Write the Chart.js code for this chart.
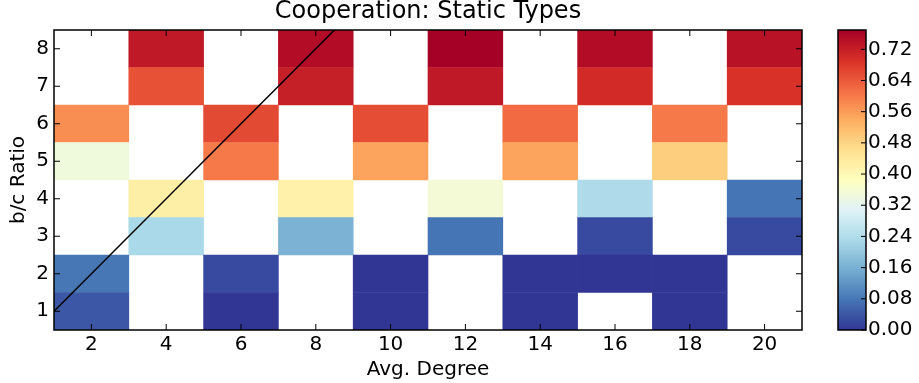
<!DOCTYPE html>
<html>
<head>
<meta charset="utf-8">
<script src="https://cdn.jsdelivr.net/npm/chart.js@4.4.0/dist/chart.umd.min.js"></script>
<style>
  body { margin: 0; background: #fff; }
  #wrap { position: relative; width: 919px; height: 383px; }
  canvas { position: absolute; left: 0; top: 0; }
</style>
</head>
<body>
<div id="wrap">
  <canvas id="heatChart" width="919" height="383"></canvas>
  <canvas id="barChart" width="919" height="383"></canvas>
</div>
<script>
// categories
var degrees = ['2', '4', '6', '8', '10', '12', '14', '16', '18', '20'];
var ratios = [1, 2, 3, 4, 5, 6, 7, 8];

// cooperation level per b/c ratio row (null = no cell)
var coop1 = [0.04, null, 0.00, null, 0.00, null, 0.00, null, 0.00, null];
var coop2 = [0.08, null, 0.025, null, 0.00, null, 0.00, 0.00, 0.00, null];
var coop3 = [null, 0.23, null, 0.165, null, 0.077, null, 0.025, null, 0.025];
var coop4 = [null, 0.425, null, 0.42, null, 0.355, null, 0.235, null, 0.077];
var coop5 = [0.345, null, 0.60, null, 0.55, null, 0.55, null, 0.49, null];
var coop6 = [0.577, null, 0.66, null, 0.655, null, 0.62, null, 0.60, null];
var coop7 = [null, 0.65, null, 0.72, null, 0.73, null, 0.70, null, 0.69];
var coop8 = [null, 0.73, null, 0.75, null, 0.77, null, 0.75, null, 0.74];
var rows = [coop1, coop2, coop3, coop4, coop5, coop6, coop7, coop8];

// diagonal reference line
var lineX = [1, 8.5];
var lineY = [1, 8.5];

// colour scale
var colorMax = 0.7695;
var colorTicks = [0, 0.08, 0.16, 0.24, 0.32, 0.40, 0.48, 0.56, 0.64, 0.72];

// RdYlBu reversed
var cmap = ['#313695', '#4575b4', '#74add1', '#abd9e9', '#e0f3f8', '#ffffbf',
            '#fee090', '#fdae61', '#f46d43', '#d73027', '#a50026'];

function hexToRgb(h) {
    return [parseInt(h.substr(1, 2), 16), parseInt(h.substr(3, 2), 16), parseInt(h.substr(5, 2), 16)];
}

function colorFor(v) {
    var t = Math.max(0, Math.min(1, v / colorMax)) * (cmap.length - 1);
    var i = Math.min(Math.floor(t), cmap.length - 2);
    var f = t - i;
    var a = hexToRgb(cmap[i]), b = hexToRgb(cmap[i + 1]);
    return 'rgb(' + Math.round(a[0] + (b[0] - a[0]) * f) + ',' +
        Math.round(a[1] + (b[1] - a[1]) * f) + ',' +
        Math.round(a[2] + (b[2] - a[2]) * f) + ')';
}

var font = "'DejaVu Sans', sans-serif";
Chart.defaults.font.family = font;
Chart.defaults.color = '#000';

var datasets = [];
for (var r = 0; r < rows.length; r++) {
    var vals = rows[r];
    var y = ratios[r];
    datasets.push({
        type: 'bar',
        data: vals.map(function(v) { return v === null ? null : [y - 0.5, y + 0.5]; }),
        backgroundColor: vals.map(function(v) { return v === null ? 'rgba(0,0,0,0)' : colorFor(v); }),
        borderWidth: 0,
        grouped: false,
        barPercentage: 1,
        categoryPercentage: 1,
        order: 1
    });
}
datasets.push({
    type: 'line',
    xAxisID: 'x2',
    data: lineX.map(function(x, i) { return {x: x, y: lineY[i]}; }),
    borderColor: '#000',
    borderWidth: 1.5,
    pointRadius: 0,
    fill: false,
    order: 0
});

function strokeLine(c, x1, y1, x2, y2) {
    c.beginPath();
    c.moveTo(x1, y1);
    c.lineTo(x2, y2);
    c.stroke();
}

var frameTicks = {
    id: 'frameTicks',
    afterDraw: function(chart) {
        var c = chart.ctx, a = chart.chartArea;
        c.save();
        c.strokeStyle = '#000';
        c.lineWidth = 1;
        var xs = chart.scales.x;
        xs.ticks.forEach(function(t, i) {
            var px = xs.getPixelForTick(i);
            strokeLine(c, px, a.bottom, px, a.bottom - 6);
            strokeLine(c, px, a.top, px, a.top + 6);
        });
        var ys = chart.scales.y;
        ys.ticks.forEach(function(t, i) {
            var py = ys.getPixelForTick(i);
            strokeLine(c, a.left, py, a.left + 6, py);
            strokeLine(c, a.right, py, a.right - 6, py);
        });
        c.lineWidth = 1.5;
        c.strokeRect(a.left, a.top, a.right - a.left, a.bottom - a.top);
        c.restore();
    }
};

new Chart(document.getElementById('heatChart'), {
    type: 'bar',
    data: { labels: degrees, datasets: datasets },
    options: {
        responsive: false,
        animation: false,
        devicePixelRatio: 1,
        layout: { padding: { right: 117 } },
        plugins: {
            legend: { display: false },
            tooltip: { enabled: false }
        },
        scales: {
            x: {
                type: 'category',
                offset: true,
                grid: { display: false, drawTicks: false },
                border: { display: false },
                ticks: { font: { size: 20 }, padding: 3, maxRotation: 0 },
                title: { display: true, text: 'Avg. Degree', font: { size: 20 }, padding: { top: 0, bottom: 1 } },
                afterFit: function(s) { s.height = 53; }
            },
            top: {
                type: 'category',
                position: 'top',
                offset: true,
                grid: { display: false, drawTicks: false },
                border: { display: false },
                ticks: { display: false },
                title: {
                    display: true,
                    text: 'Cooperation: Static Types',
                    font: { size: 24, lineHeight: 1 },
                    padding: { top: 0, bottom: 0 }
                },
                afterFit: function(s) { s.height = 30; }
            },
            x2: {
                type: 'linear',
                display: false,
                offset: false,
                min: 1,
                max: 21
            },
            y: {
                type: 'linear',
                min: 0.5,
                max: 8.5,
                grid: { display: false, drawTicks: false },
                border: { display: false },
                ticks: { font: { size: 20 }, padding: 5 },
                afterBuildTicks: function(s) { s.ticks = ratios.map(function(v) { return {value: v}; }); },
                title: { display: true, text: 'b/c Ratio', font: { size: 20 }, padding: { top: 7, bottom: 0 } },
                afterFit: function(s) { s.width = 54; }
            }
        }
    },
    plugins: [frameTicks]
});

// colour bar
var barFrame = {
    id: 'barFrame',
    afterDraw: function(chart) {
        var c = chart.ctx, a = chart.chartArea;
        var ys = chart.scales.y;
        c.save();
        c.strokeStyle = '#000';
        c.lineWidth = 1;
        ys.ticks.forEach(function(t, i) {
            var py = ys.getPixelForTick(i);
            strokeLine(c, a.right, py, a.right - 5, py);
        });
        c.lineWidth = 1.5;
        c.strokeRect(a.left, a.top, a.right - a.left, a.bottom - a.top);
        c.restore();
    }
};

new Chart(document.getElementById('barChart'), {
    type: 'bar',
    data: {
        labels: ['c'],
        datasets: [{
            data: [[0, colorMax]],
            borderWidth: 0,
            barPercentage: 1,
            categoryPercentage: 1,
            backgroundColor: function(ctx) {
                var chart = ctx.chart;
                if (!chart.chartArea) return cmap[0];
                var ys = chart.scales.y;
                var g = chart.ctx.createLinearGradient(0, ys.getPixelForValue(0), 0, ys.getPixelForValue(colorMax));
                cmap.forEach(function(col, i) { g.addColorStop(i / (cmap.length - 1), col); });
                return g;
            }
        }]
    },
    options: {
        responsive: false,
        animation: false,
        devicePixelRatio: 1,
        layout: { padding: { left: 838, top: 30, bottom: 53 } },
        plugins: { legend: { display: false }, tooltip: { enabled: false } },
        scales: {
            x: { display: false },
            y: {
                position: 'right',
                min: 0,
                max: colorMax,
                grid: { display: false, drawTicks: false },
                border: { display: false },
                afterBuildTicks: function(s) { s.ticks = colorTicks.map(function(v) { return {value: v}; }); },
                ticks: {
                    font: { size: 20 },
                    padding: 2,
                    callback: function(v) { return Number(v).toFixed(2); }
                },
                afterFit: function(s) { s.width = 53; }
            }
        }
    },
    plugins: [barFrame]
});
</script>
</body>
</html>
